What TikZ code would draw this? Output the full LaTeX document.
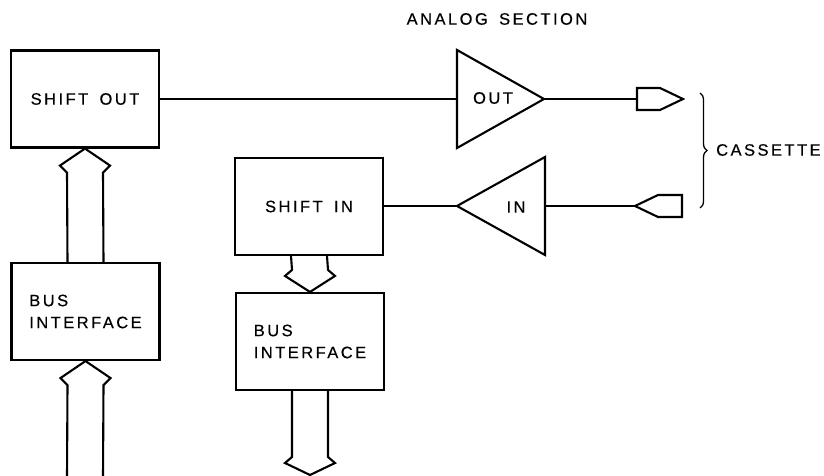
\documentclass[tikz,border=0pt]{standalone}
\usepackage{fontspec}
\setmainfont{Liberation Sans}[LetterSpace=15,WordSpace=1.6,FakeBold=0.4]
\usetikzlibrary{decorations.pathreplacing,calc}
\begin{document}
\begin{tikzpicture}[x=1pt,y=-1pt,
  every node/.style={font=\fontsize{16.5}{22}\selectfont},
  blk/.style={draw,line width=2.1pt,minimum width=148pt,minimum height=97pt,inner sep=0pt,align=left},
  wire/.style={line width=2.1pt},
  fat/.style={line width=2.1pt,line join=miter},
  lbl/.style={inner sep=0pt}]
\useasboundingbox (0,0) rectangle (824,476);
% blocks
\node[blk] (so) at (85,99) {SHIFT OUT};
\node[blk] (bus1) at (85.5,311.5) {BUS\\INTERFACE};
\node[blk] (si) at (309,206.5) {SHIFT IN};
\node[blk] (bus2) at (310,341.5) {BUS\\INTERFACE};
% amplifiers
\coordinate (oa) at (457,50);
\coordinate (ob) at (457,148);
\coordinate (ot) at (544,99);
\draw[wire,line join=miter] (oa) -- (ot) -- (ob) -- cycle;
\node[lbl] (outl) at (493,98) {OUT};
\coordinate (ia) at (545,157);
\coordinate (ib) at (545,255);
\coordinate (itip) at (457,206);
\draw[wire,line join=miter] (ia) -- (itip) -- (ib) -- cycle;
\node[lbl] (inl) at (516,207) {IN};
% connectors (plugs)
\coordinate (pout) at (637,99);
\draw[wire,line join=miter] (pout) -- ++(0,-11) -- ++(23,0) -- ++(23,11) -- ++(-23,11) -- ++(-23,0) -- cycle;
\coordinate (pin) at (635,206);
\draw[wire,line join=miter] (pin) -- ++(23,-11) -- ++(24,0) -- ++(0,22) -- ++(-24,0) -- cycle;
% wires
\draw[wire] (so.east) -- (so.east -| oa);
\draw[wire] (ot) -- (pout);
\draw[wire] (pin) -- (pin -| ia);
\draw[wire] (itip) -- (itip -| si.east);
% fat bus arrows
\draw[fat] ([xshift=-18pt]bus1.north) -- ([xshift=-18pt,yshift=-24pt]so.south) -- ([xshift=-25pt,yshift=-17pt]so.south) -- (so.south) -- ([xshift=25pt,yshift=-17pt]so.south) -- ([xshift=18pt,yshift=-24pt]so.south) -- ([xshift=18pt]bus1.north);
\coordinate (b1l) at (67,478);
\coordinate (b1r) at (103,478);
\draw[fat] (b1l) -- ([xshift=-18pt,yshift=-24pt]bus1.south) -- ([xshift=-25pt,yshift=-17pt]bus1.south) -- (bus1.south) -- ([xshift=25pt,yshift=-17pt]bus1.south) -- ([xshift=18pt,yshift=-24pt]bus1.south) -- (b1r);
\draw[fat] ([xshift=-18pt]si.south) -- ([xshift=-18pt,yshift=22pt]bus2.north) -- ([xshift=-25pt,yshift=16pt]bus2.north) -- (bus2.north) -- ([xshift=25pt,yshift=16pt]bus2.north) -- ([xshift=18pt,yshift=22pt]bus2.north) -- ([xshift=18pt]si.south);
\coordinate (t2) at (310,475);
\draw[fat] ([xshift=-18pt]bus2.south) -- ([xshift=-18pt,yshift=18pt]t2) -- ([xshift=-25pt,yshift=12pt]t2) -- (t2) -- ([xshift=25pt,yshift=12pt]t2) -- ([xshift=18pt,yshift=18pt]t2) -- ([xshift=18pt]bus2.south);
% brace and labels
\coordinate (bt) at (700,93);
\coordinate (bb) at (700,208);
\draw[line width=1.3pt,decorate,decoration={brace,amplitude=7pt}] (bt) -- (bb);
\node[lbl,anchor=west] (cas) at (716,150) {CASSETTE};
\node[lbl] (ana) at (497,19) {ANALOG SECTION};
\end{tikzpicture}
\end{document}
